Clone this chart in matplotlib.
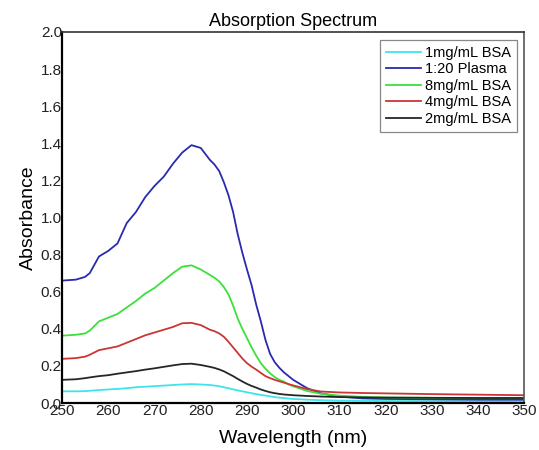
import numpy as np
import matplotlib
matplotlib.use("Agg")
import matplotlib.pyplot as plt

plt.rcParams['font.family'] = ['Liberation Sans', 'DejaVu Sans']

# Wavelength grid (nm) shared by every spectrum
wavelength = [250, 253, 255, 256, 258, 260, 262, 264, 266, 268, 270, 272, 274,
              276, 278, 280, 282, 283, 284, 285, 286, 287, 288, 289, 290, 291,
              292, 293, 294, 295, 296, 297, 298, 299, 300, 303, 306, 310, 315,
              320, 330, 340, 350]

bsa_1 = [0.063, 0.063, 0.064, 0.066, 0.070, 0.073, 0.076, 0.080, 0.085, 0.088,
         0.091, 0.094, 0.097, 0.100, 0.102, 0.100, 0.097, 0.094, 0.090, 0.085,
         0.080, 0.074, 0.068, 0.063, 0.058, 0.053, 0.048, 0.044, 0.040, 0.036,
         0.032, 0.029, 0.027, 0.024, 0.022, 0.018, 0.015, 0.013, 0.012, 0.011,
         0.010, 0.010, 0.010]
plasma = [0.66, 0.665, 0.68, 0.70, 0.79, 0.82, 0.86, 0.97, 1.03, 1.11, 1.17,
          1.22, 1.29, 1.35, 1.39, 1.375, 1.31, 1.285, 1.25, 1.19, 1.12, 1.03,
          0.91, 0.81, 0.72, 0.635, 0.53, 0.44, 0.34, 0.265, 0.22, 0.19, 0.165,
          0.145, 0.125, 0.08, 0.052, 0.035, 0.025, 0.022, 0.020, 0.018, 0.018]
bsa_8 = [0.363, 0.368, 0.375, 0.39, 0.44, 0.46, 0.48, 0.515, 0.55, 0.59, 0.62,
         0.66, 0.70, 0.735, 0.742, 0.72, 0.69, 0.675, 0.655, 0.625, 0.585,
         0.525, 0.455, 0.40, 0.35, 0.30, 0.255, 0.215, 0.185, 0.16, 0.14, 0.125,
         0.115, 0.10, 0.09, 0.065, 0.05, 0.04, 0.033, 0.030, 0.028, 0.027,
         0.027]
bsa_4 = [0.238, 0.242, 0.25, 0.26, 0.285, 0.295, 0.305, 0.325, 0.345, 0.365,
         0.38, 0.395, 0.41, 0.43, 0.432, 0.42, 0.395, 0.387, 0.375, 0.357, 0.33,
         0.30, 0.27, 0.24, 0.215, 0.196, 0.18, 0.162, 0.145, 0.134, 0.125,
         0.117, 0.11, 0.102, 0.095, 0.075, 0.062, 0.057, 0.054, 0.052, 0.048,
         0.045, 0.042]
bsa_2 = [0.125, 0.128, 0.134, 0.138, 0.145, 0.150, 0.158, 0.165, 0.172, 0.180,
         0.187, 0.195, 0.203, 0.210, 0.212, 0.205, 0.195, 0.189, 0.181, 0.171,
         0.158, 0.145, 0.130, 0.116, 0.103, 0.092, 0.083, 0.073, 0.065, 0.058,
         0.053, 0.049, 0.046, 0.044, 0.042, 0.038, 0.035, 0.032, 0.030, 0.029,
         0.028, 0.027, 0.027]

labels = ['1mg/mL BSA', '1:20 Plasma', '8mg/mL BSA', '4mg/mL BSA', '2mg/mL BSA']
colors = ['#3ee4ec', '#2a2aae', '#3ce03c', '#cc3535', '#262626']
series = [bsa_1, plasma, bsa_8, bsa_4, bsa_2]

fig = plt.figure(figsize=(5.39, 4.5), dpi=100)
ax = fig.add_axes([0.115, 0.1044, 0.858, 0.8245])

for y, lab, c in zip(series, labels, colors):
    ax.plot(wavelength, y, color=c, lw=1.3, label=lab)

ax.set_xlim(250, 350)
ax.set_ylim(0, 2.0)
ax.set_xticks(np.arange(250, 351, 10))
ax.set_yticks(np.arange(0, 2.01, 0.2))
ax.set_yticklabels(['%.1f' % v for v in np.arange(0, 2.01, 0.2)])
ax.tick_params(length=0, labelsize=11, labelcolor='#222222')
ax.tick_params(axis='y', pad=0)
ax.tick_params(axis='x', pad=1)

ax.spines['left'].set_linewidth(1.6)
ax.spines['bottom'].set_linewidth(1.6)
ax.spines['left'].set_color('black')
ax.spines['bottom'].set_color('black')
ax.spines['top'].set_linewidth(1.2)
ax.spines['top'].set_color('#333333')
ax.spines['right'].set_linewidth(1.2)
ax.spines['right'].set_color('#555555')

ax.set_title('Absorption Spectrum', fontsize=13, pad=4.5)
ax.set_xlabel('Wavelength (nm)', fontsize=14, labelpad=8)
ax.set_ylabel('Absorbance', fontsize=14, labelpad=3)

leg = ax.legend(loc='upper right', bbox_to_anchor=(0.984, 0.978),
                borderaxespad=0, fontsize=10.5, fancybox=False,
                edgecolor='#888888', framealpha=1, handlelength=2.4,
                handletextpad=0.3, labelspacing=0.17, borderpad=0.4)
leg.get_frame().set_linewidth(0.9)

fig.savefig('out.png', dpi=100)
